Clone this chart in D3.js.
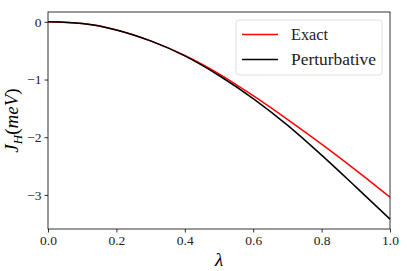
<!DOCTYPE html>
<html>
<head>
<meta charset="utf-8">
<script src="https://d3js.org/d3.v7.min.js"></script>
<style>
  body { margin: 0; background: #fff; }
  text { font-family: "Liberation Serif", "DejaVu Serif", serif; }
</style>
</head>
<body>
<div id="chart"></div>
<script>
// values
var lambda = [0.0, 0.1, 0.2, 0.3, 0.4, 0.5, 0.6, 0.7, 0.8, 0.9, 1.0];
var exact = [0, -0.03, -0.14, -0.33, -0.58, -0.90, -1.28, -1.69, -2.12, -2.57, -3.04];
var perturbative = [0, -0.03, -0.14, -0.33, -0.59, -0.93, -1.33, -1.79, -2.31, -2.86, -3.42];
var xTicks = [0, 0.2, 0.4, 0.6, 0.8, 1.0];
var yTicks = [0, -1, -2, -3];
var seriesNames = ["Exact", "Perturbative"];
var seriesColors = ["#ff0000", "#000000"];
var legendWidths = [37, 85];

var W = 407, H = 271;
var margin = {top: 12, right: 17, bottom: 42, left: 48};
var width = W - margin.left - margin.right,
    height = H - margin.top - margin.bottom;

var svg = d3.select("#chart").append("svg")
    .attr("width", W).attr("height", H);
var g = svg.append("g")
    .attr("transform", "translate(" + margin.left + "," + margin.top + ")");

var x = d3.scaleLinear().domain([0, 1]).range([0, width]);
var y = d3.scaleLinear().domain([-3.591, 0.171]).range([height, 0]);

var line = d3.line()
    .x(function(d) { return x(d[0]); })
    .y(function(d) { return y(d[1]); })
    .curve(d3.curveMonotoneX);

[exact, perturbative].forEach(function(vals, i) {
  g.append("path")
    .datum(lambda.map(function(l, j) { return [l, vals[j]]; }))
    .attr("fill", "none")
    .attr("stroke", seriesColors[i])
    .attr("stroke-width", 1.5)
    .attr("d", line);
});

// axes
var xAxis = g.append("g")
    .attr("transform", "translate(0," + height + ")")
    .call(d3.axisBottom(x).tickValues(xTicks).tickSize(3.5).tickPadding(3)
      .tickFormat(d3.format(".1f")));
var yAxis = g.append("g")
    .call(d3.axisLeft(y).tickValues(yTicks).tickSize(3.5).tickPadding(3)
      .tickFormat(function(d) { return d < 0 ? "\u2212" + Math.abs(d) : d; }));
[xAxis, yAxis].forEach(function(a) {
  a.select(".domain").remove();
  a.selectAll("line").attr("stroke", "#000").attr("stroke-width", 0.8);
  a.selectAll("text").attr("font-family", "Liberation Serif, serif")
    .attr("font-size", 13.5).attr("fill", "#222");
});

g.append("rect")
  .attr("x", 0).attr("y", 0).attr("width", width).attr("height", height)
  .attr("fill", "none").attr("stroke", "#000").attr("stroke-width", 0.8);

// labels
svg.append("text")
  .attr("x", margin.left + width / 2).attr("y", 266)
  .attr("text-anchor", "middle")
  .attr("font-style", "italic").attr("font-size", 19)
  .text("\u03bb");

var yl = svg.append("text")
  .attr("transform", "translate(18," + (margin.top + height / 2) + ") rotate(-90)")
  .attr("text-anchor", "middle")
  .attr("font-size", 19);
yl.append("tspan").attr("font-style", "italic").text("J");
yl.append("tspan").attr("font-style", "italic").attr("font-size", 13).attr("dy", 4).text("H");
yl.append("tspan").attr("dy", -4).text("(");
yl.append("tspan").attr("font-style", "italic").text("meV");
yl.append("tspan").text(")");

// legend
var leg = svg.append("g");
leg.append("rect")
  .attr("x", 236).attr("y", 20).attr("width", 146).attr("height", 55)
  .attr("rx", 3).attr("fill", "#fff").attr("fill-opacity", 0.8)
  .attr("stroke", "#d8d8d8").attr("stroke-width", 0.8);
seriesNames.forEach(function(name, i) {
  var ly = 34.5 + i * 25;
  leg.append("line")
    .attr("x1", 242).attr("x2", 278).attr("y1", ly).attr("y2", ly)
    .attr("stroke", seriesColors[i]).attr("stroke-width", 1.5);
  leg.append("text")
    .attr("x", 291).attr("y", ly + 5.5)
    .attr("font-size", 16.5).attr("fill", "#222")
    .attr("textLength", legendWidths[i]).attr("lengthAdjust", "spacingAndGlyphs")
    .text(name);
});
</script>
</body>
</html>
